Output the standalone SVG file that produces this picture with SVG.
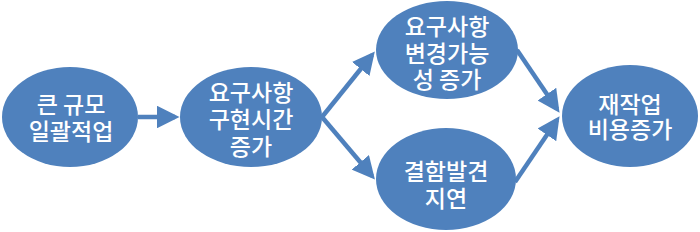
<svg xmlns="http://www.w3.org/2000/svg" width="700" height="232" viewBox="0 0 700 232">
  <style>
    .node ellipse { fill: #4F81BD; }
    .node text { fill: #FFFFFF; font-family: "Noto Sans CJK KR", "Noto Sans", sans-serif; font-size: 23px; font-weight: 500; text-anchor: middle; dominant-baseline: central; }
    .conn line { stroke: #4F81BD; stroke-width: 4.5; marker-end: url(#arrow); }
  </style>
  <defs>
    <marker id="arrow" markerWidth="5" markerHeight="5" refX="4" refY="2.5" orient="auto" markerUnits="strokeWidth">
      <path d="M0,0 L5,2.5 L0,5 Z" fill="#4F81BD"/>
    </marker>
  </defs>
  <rect width="700" height="232" fill="#FFFFFF"/>
  <g id="connectors" class="conn">
    <line x1="138" y1="117" x2="175" y2="117"/>
    <line x1="322" y1="117" x2="372" y2="55"/>
    <line x1="322" y1="117" x2="372" y2="176"/>
    <line x1="517" y1="50" x2="557" y2="109"/>
    <line x1="515" y1="182" x2="557" y2="120"/>
  </g>
  <g id="node1" class="node">
    <ellipse cx="70" cy="117" rx="68" ry="50"/>
    <text x="71" y="103">큰 규모</text>
    <text x="71" y="130">일괄적업</text>
  </g>
  <g id="node2" class="node">
    <ellipse cx="251" cy="117" rx="71" ry="50"/>
    <text x="251" y="91">요구사항</text>
    <text x="251" y="118">구현시간</text>
    <text x="251" y="145">증가</text>
  </g>
  <g id="node3" class="node">
    <ellipse cx="447" cy="50" rx="71" ry="49"/>
    <text x="447" y="25">요구사항</text>
    <text x="447" y="52">변경가능</text>
    <text x="447" y="78">성 증가</text>
  </g>
  <g id="node4" class="node">
    <ellipse cx="446" cy="179" rx="70" ry="51"/>
    <text x="446" y="170">결함발견</text>
    <text x="446" y="197">지연</text>
  </g>
  <g id="node5" class="node">
    <ellipse cx="630" cy="116" rx="68" ry="51"/>
    <text x="630" y="103">재작업</text>
    <text x="630" y="128">비용증가</text>
  </g>
</svg>
